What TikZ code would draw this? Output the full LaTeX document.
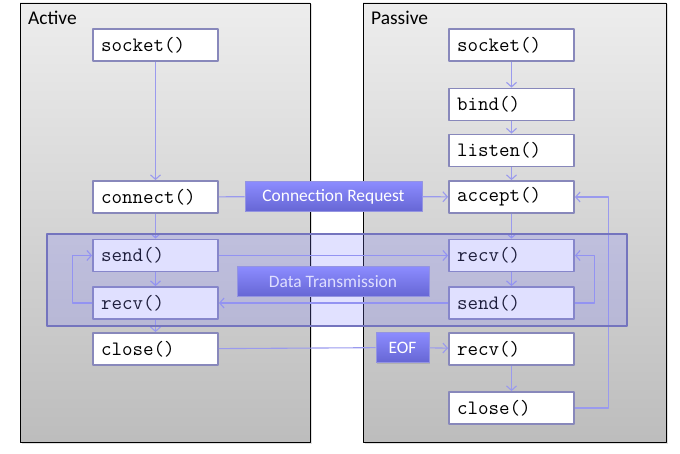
\documentclass[tikz,border=0pt]{standalone}
\usepackage{fontspec}
\setmainfont{Carlito}
\usetikzlibrary{arrows.meta,shadows}
\definecolor{flowline}{HTML}{9A9AEE}
\definecolor{boxline}{HTML}{8888BB}
\definecolor{bandline}{HTML}{7474BE}
\definecolor{tagtop}{HTML}{8C8CFF}
\definecolor{tagbot}{HTML}{6666D4}
\tikzset{
  side/.style={draw=black, line width=0.9bp, top color=black!7, bottom color=black!26,
    drop shadow={shadow xshift=1.5bp, shadow yshift=-1.5bp, opacity=0.25}},
  sidename/.style={anchor=base west, inner sep=0pt, font=\fontsize{19.5}{21}\selectfont},
  call/.style={draw=boxline, line width=1.8bp, fill=white, font=\ttfamily\fontsize{20.5}{22}\selectfont,
    minimum height=32bp, inner xsep=8bp, text width=109bp, align=left},
  tag/.style={draw=tagbot!70, line width=0.6bp, top color=tagtop, bottom color=tagbot, text=white,
    font=\fontsize{17.5}{19}\selectfont, minimum height=30bp, inner sep=0pt,
    drop shadow={shadow xshift=1bp, shadow yshift=-1bp, opacity=0.3}},
  flow/.style={draw=flowline, line width=1.1bp},
  >={Straight Barb[length=4.5bp,width=10bp]}
}
\begin{document}
\begin{tikzpicture}[x=1bp, y=-1bp, line join=round]
  \useasboundingbox (0,0) rectangle (680,454);
  % the two sides
  \draw[side] (20,3) rectangle (310,442);
  \draw[side] (363,3) rectangle (666,442);
  \node[sidename] (aname) at (28,25) {Active};
  \node[sidename] (pname) at (371,25) {Passive};
  % active calls
  \node[call] (asock) at (155.5,45) {socket()};
  \node[call] (aconn) at (155.5,197) {connect()};
  \node[call] (asend) at (155.5,255.5) {send()};
  \node[call] (arecv) at (155.5,303) {recv()};
  \node[call] (aclose) at (155.5,349) {close()};
  % passive calls
  \node[call] (psock) at (511.5,45) {socket()};
  \node[call] (pbind) at (511.5,104.5) {bind()};
  \node[call] (plisten) at (511.5,150.5) {listen()};
  \node[call] (paccept) at (511.5,197) {accept()};
  \node[call] (precv) at (511.5,255.5) {recv()};
  \node[call] (psend) at (511.5,303) {send()};
  \node[call] (peof) at (511.5,349) {recv()};
  \node[call] (pclose) at (511.5,408) {close()};
  % flow
  \draw[flow,->] (asock) -- (aconn);
  \draw[flow,->] (aconn) -- (asend);
  \draw[flow,->] (asend) -- (arecv);
  \draw[flow,->] (arecv) -- (aclose);
  \draw[flow,->] (arecv.west) -- ++(-20,0) |- (asend.west);
  \draw[flow,->] (psock) -- (pbind);
  \draw[flow,->] (pbind) -- (plisten);
  \draw[flow,->] (plisten) -- (paccept);
  \draw[flow,->] (paccept) -- (precv);
  \draw[flow,->] (precv) -- (psend);
  \draw[flow,->] (peof) -- (pclose);
  \draw[flow,->] (psend.east) -- ++(20,0) |- (precv.east);
  \draw[flow,->] (pclose.east) -- ++(34,0) |- (paccept.east);
  \draw[flow,->] (asend.east) -- (precv.west);
  \draw[flow,->] (psend.west) -- (arecv.east);
  % data exchange band
  \draw[draw=bandline, line width=1.8bp, fill=blue!50, fill opacity=0.24] (47,234) rectangle (627,326);
  % messages
  \node[tag, minimum width=177bp] (req) at (333.5,196.5) {Connection Request};
  \node[tag, minimum width=192bp, text=blue!13] (data) at (333,281.5) {Data Transmission};
  \node[tag, minimum width=53bp] (eof) at (402.5,347.5) {EOF};
  \draw[flow] (aconn) -- (req);
  \draw[flow,->] (req) -- (paccept);
  \draw[flow] (aclose) -- (eof);
  \draw[flow,->] (eof) -- (peof);
\end{tikzpicture}
\end{document}
